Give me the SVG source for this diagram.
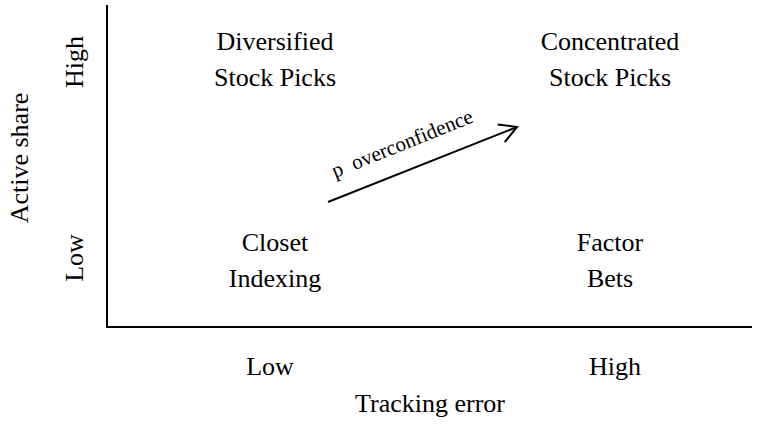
<svg xmlns="http://www.w3.org/2000/svg" width="776" height="428" viewBox="0 0 776 428">
<style>
text{font-family:"Liberation Serif","Times New Roman",serif;font-size:26px;fill:#000;text-anchor:middle}
.ax{stroke:#000;stroke-width:2;fill:none}
</style>
<defs>
<marker id="ah" markerWidth="20" markerHeight="22" refX="18" refY="11" orient="auto" markerUnits="userSpaceOnUse" viewBox="0 0 20 22">
<path d="M1 1.5 L18 11 L1 20.5" fill="none" stroke="#000" stroke-width="2"/>
</marker>
</defs>
<rect width="776" height="428" fill="#fff"/>
<g id="axes">
<path class="ax" d="M107 5 V327 H752"/>
</g>
<g id="ylabels">
<text transform="translate(20,158) rotate(-90)" y="8">Active share</text>
<text transform="translate(75,62) rotate(-90)" y="8">High</text>
<text transform="translate(75,258) rotate(-90)" y="8">Low</text>
</g>
<g id="xlabels">
<text x="270" y="375">Low</text>
<text x="615" y="375">High</text>
<text x="430" y="412">Tracking error</text>
</g>
<g id="diversified"><text x="275" y="50">Diversified</text><text x="275" y="86">Stock Picks</text></g>
<g id="concentrated"><text x="610" y="50">Concentrated</text><text x="610" y="86">Stock Picks</text></g>
<g id="closet"><text x="275" y="251">Closet</text><text x="275" y="287">Indexing</text></g>
<g id="factor"><text x="610" y="251">Factor</text><text x="610" y="287">Bets</text></g>
<g id="connectors">
<line x1="328" y1="202" x2="517" y2="127" stroke="#000" stroke-width="2" marker-end="url(#ah)"/>
<text transform="translate(335,178) rotate(-22)" style="font-size:21px;text-anchor:start" xml:space="preserve">p  overconfidence</text>
</g>
</svg>
